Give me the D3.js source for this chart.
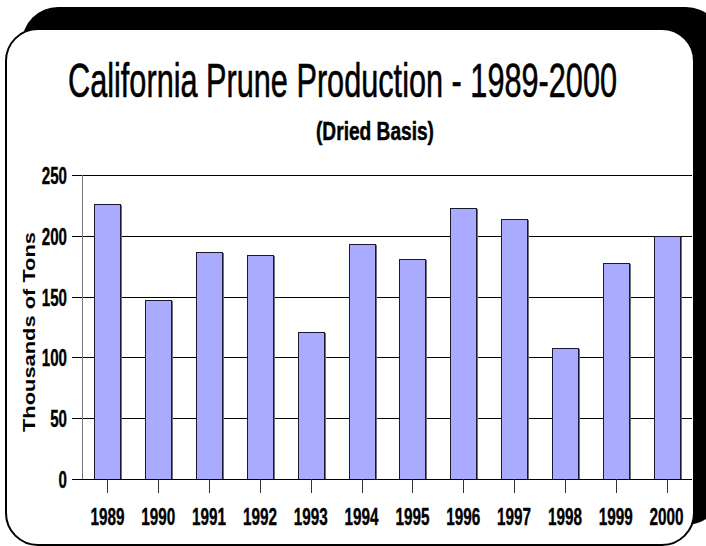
<!DOCTYPE html>
<html>
<head>
<meta charset="utf-8">
<script src="https://cdn.jsdelivr.net/npm/d3@7"></script>
<style>
  html, body { margin: 0; padding: 0; background: #fff; }
  svg { display: block; }
</style>
</head>
<body>
<svg id="chart" width="706" height="546"></svg>
<script>
const years = ["1989","1990","1991","1992","1993","1994","1995","1996","1997","1998","1999","2000"];
const production = [226, 147, 187, 184, 121, 193, 181, 223, 214, 108, 178, 200];
const yTicks = [0, 50, 100, 150, 200, 250];
const titleText = "California Prune Production - 1989-2000";
const subtitleText = "(Dried Basis)";
const yAxisLabel = "Thousands of Tons";

(function () {
const svg = d3.select("#chart");
const narrow = "'Liberation Sans Narrow', 'Arial Narrow', 'Liberation Sans', Arial, sans-serif";
const wide = "'Liberation Sans', Arial, sans-serif";

// background frame
svg.append("rect").attr("x", 22).attr("y", 7).attr("width", 700).attr("height", 518)
  .attr("rx", 36).attr("ry", 36).attr("fill", "#000");
svg.append("rect").attr("x", 6).attr("y", 29).attr("width", 688).attr("height", 516)
  .attr("rx", 32).attr("ry", 32).attr("fill", "#fff").attr("stroke", "#000").attr("stroke-width", 2);

// titles
svg.append("text").attr("x", 68).attr("y", 97)
  .attr("font-family", narrow).attr("font-size", 48).attr("fill", "#000")
  .attr("stroke", "#000").attr("stroke-width", 0.6)
  .attr("textLength", 549).attr("lengthAdjust", "spacingAndGlyphs")
  .text(titleText);
svg.append("text").attr("x", 316).attr("y", 140)
  .attr("font-family", narrow).attr("font-weight", "bold").attr("font-size", 26).attr("fill", "#000")
  .attr("stroke", "#000").attr("stroke-width", 0.5)
  .attr("textLength", 118).attr("lengthAdjust", "spacingAndGlyphs")
  .text(subtitleText);

const plotLeft = 82, plotRight = 692, plotTop = 175, plotBottom = 479;
const x = d3.scaleBand().domain(years).range([plotLeft, plotRight]).paddingInner(0.49).paddingOuter(0.245);
const y = d3.scaleLinear().domain([0, 250]).range([plotBottom, plotTop]);

// gridlines
svg.append("g").selectAll("line").data(yTicks).join("line")
  .attr("x1", 72).attr("x2", plotRight)
  .attr("y1", d => Math.round(y(d)) + 0.5).attr("y2", d => Math.round(y(d)) + 0.5)
  .attr("stroke", "#000").attr("stroke-width", 1);

// y axis line
svg.append("line").attr("x1", plotLeft + 0.5).attr("x2", plotLeft + 0.5).attr("y1", plotTop).attr("y2", plotBottom)
  .attr("stroke", "#777").attr("stroke-width", 1);

// bars
const bars = svg.append("g");
bars.selectAll("line.shadow").data(years).join("line").attr("class", "shadow")
  .attr("x1", d => Math.round(x(d) + x.bandwidth()) + 1)
  .attr("x2", d => Math.round(x(d) + x.bandwidth()) + 1)
  .attr("y1", (d, i) => Math.round(y(production[i])) + 1)
  .attr("y2", plotBottom)
  .attr("stroke", "#707070").attr("stroke-width", 2);
bars.selectAll("rect").data(years).join("rect")
  .attr("x", d => Math.round(x(d)) + 0.5)
  .attr("y", (d, i) => Math.round(y(production[i])) + 0.5)
  .attr("width", Math.round(x.bandwidth()))
  .attr("height", (d, i) => plotBottom - Math.round(y(production[i])))
  .attr("fill", "#aaaaff").attr("stroke", "#1a1a2a").attr("stroke-width", 1);

// x axis baseline
svg.append("line").attr("x1", 72).attr("x2", plotRight).attr("y1", plotBottom + 0.5).attr("y2", plotBottom + 0.5)
  .attr("stroke", "#000").attr("stroke-width", 1);

// x ticks
svg.append("g").selectAll("line").data(years).join("line")
  .attr("x1", d => Math.round(x(d) + x.bandwidth() / 2) + 0.5)
  .attr("x2", d => Math.round(x(d) + x.bandwidth() / 2) + 0.5)
  .attr("y1", plotBottom).attr("y2", plotBottom + 14)
  .attr("stroke", "#333").attr("stroke-width", 1);

// x labels
svg.append("g").selectAll("text").data(years).join("text")
  .attr("x", d => x(d) + x.bandwidth() / 2 - 17)
  .attr("y", 525)
  .attr("font-family", narrow).attr("font-weight", "bold").attr("font-size", 24).attr("fill", "#000")
  .attr("stroke", "#000").attr("stroke-width", 0.4)
  .attr("textLength", 34).attr("lengthAdjust", "spacingAndGlyphs")
  .text(d => d);

// y labels
svg.append("g").selectAll("text").data(yTicks).join("text")
  .attr("x", d => 67 - String(d).length * 8.4)
  .attr("y", d => y(d) + 9)
  .attr("font-family", narrow).attr("font-weight", "bold").attr("font-size", 24).attr("fill", "#000")
  .attr("stroke", "#000").attr("stroke-width", 0.4)
  .attr("textLength", d => String(d).length * 8.4).attr("lengthAdjust", "spacingAndGlyphs")
  .text(d => d);

// y axis title
svg.append("text")
  .attr("transform", "translate(35,432) rotate(-90)")
  .attr("font-family", wide).attr("font-weight", "bold").attr("font-size", 17).attr("fill", "#000")
  .attr("textLength", 200).attr("lengthAdjust", "spacingAndGlyphs")
  .text(yAxisLabel);
})();
</script>
</body>
</html>
